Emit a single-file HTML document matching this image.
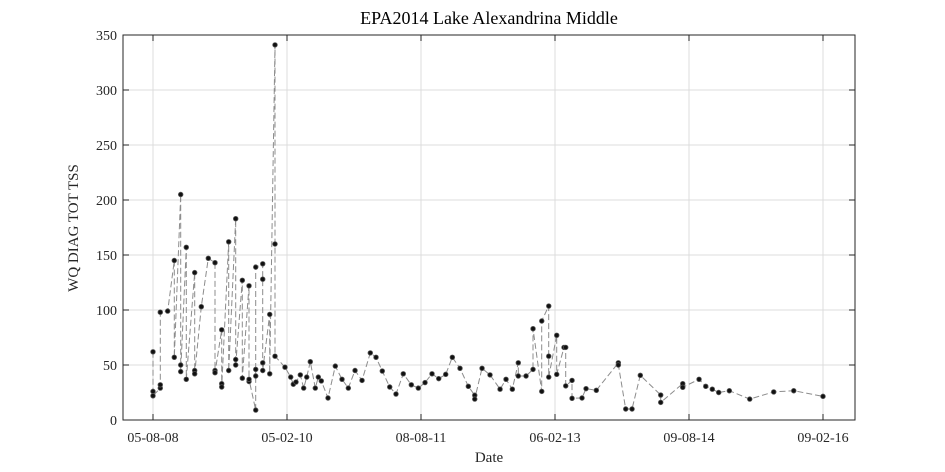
<!DOCTYPE html>
<html><head><meta charset="utf-8"><style>
html,body{margin:0;padding:0;background:#fff;}
svg{display:block;font-family:"Liberation Serif",serif;}
</style></head><body>
<svg id="chart" width="945" height="472"></svg>
<script>
const sampleMonths = [0,0,0, 0.98,0.98,0.98, 1.97, 2.86,2.86, 3.72,3.72,3.72, 4.47,4.47, 5.6,5.6,5.6, 6.49, 7.43, 8.33,8.33,8.33, 9.23,9.23,9.23, 10.17,10.17, 11.11,11.11,11.11, 12.0,12.0, 12.9,12.9,12.9, 13.8,13.8,13.8,13.8, 14.74,14.74,14.74,14.74, 15.68,15.68, 16.39,16.39,16.39,
17.73,18.5,18.85,19.21,19.79,20.24,20.65,21.13,21.8,22.21,22.61,23.51,24.49,25.39,26.24,27.14,28.08,29.19,29.96,30.8,31.8,32.64,33.62,34.7,35.64,36.54,37.48,38.38,39.32,40.21,41.24,42.36,43.22,43.22,44.2,45.27,46.62,47.42,48.27,49.07,49.07,50.11,51.05,51.05,52.22,52.22,53.16,53.16,53.16,54.23,54.23,55.21,55.44,55.44,56.29,56.29,57.63,58.17,59.55,62.51,62.51,63.5,64.35,65.46,68.2,68.2,71.16,71.16,73.35,74.25,75.13,75.99,77.42,80.16,83.38,86.07,90.0];
const sampleValues = [62,26,22, 29,32,98, 99, 145,57, 205,50,44, 157,37, 134,45,42, 103, 147, 143,45,43, 82,33,30, 162,45, 183,55,50, 127,38, 122,35,37, 9,46,40,139, 142,128,52,45, 96,42, 341,160,58,
48,39,32.5,34.5,41,29,39,53,29,39,35.5,20,49,37,29,45,36,61,57,44.5,30,23.6,42,32,29,34,42,37.6,41.5,57,47,30.6,22.5,19,47,41,28,37,28,52,40,40,46,83,26,90,103.6,58,39,77,41.5,66,66,31,36,19.7,20,28.5,27,52,50,10,10,40.6,22.7,16,33,29.7,37,30.6,28,25,26.6,19,25.5,26.6,21.5];
const xTickMonths = [0,18,36,54,72,90];
const xTickLabels = ["05-08-08","05-02-10","08-08-11","06-02-13","09-08-14","09-02-16"];
const yTicks = [0,50,100,150,200,250,300,350];

const NS="http://www.w3.org/2000/svg";
const svg=document.getElementById('chart');
const L=123,R=855,T=35,B=420;
const xS=m=>153+(m)*(670/90);
const yS=v=>B-(v/350)*(B-T);
function mk(tag,attrs,parent){const e=document.createElementNS(NS,tag);for(const k in attrs)e.setAttribute(k,attrs[k]);(parent||svg).appendChild(e);return e;}

const grid=mk('g',{});


xTickMonths.forEach((m,i)=>{
  const x=xS(m);
  mk('line',{x1:x,x2:x,y1:T,y2:B,stroke:'#dcdcdc','stroke-width':1},grid);
  mk('line',{x1:x,x2:x,y1:B,y2:B-6,stroke:'#262626'},svg);
  mk('line',{x1:x,x2:x,y1:T,y2:T+6,stroke:'#262626'},svg);
  const t=mk('text',{x:x,y:B+22,'text-anchor':'middle','font-size':14,fill:'#262626'});
  t.textContent=xTickLabels[i];
  
  
});
yTicks.forEach(v=>{
  const y=yS(v);
  mk('line',{x1:L,x2:R,y1:y,y2:y,stroke:'#dcdcdc','stroke-width':1},grid);
  mk('line',{x1:L,x2:L+6,y1:y,y2:y,stroke:'#262626'},svg);
  mk('line',{x1:R,x2:R-6,y1:y,y2:y,stroke:'#262626'},svg);
  const t=mk('text',{x:L-6,y:y+5,'text-anchor':'end','font-size':14,fill:'#262626'});
  t.textContent=v;
  
  
});
const box=mk('rect',{x:L,y:T,width:R-L,height:B-T,fill:'none',stroke:'#262626','stroke-width':1});



const pts=sampleMonths.map((m,i)=>xS(m).toFixed(1)+','+yS(sampleValues[i]).toFixed(1)).join(' ');
const line=mk('polyline',{points:pts,fill:'none',stroke:'#8c8c8c','stroke-width':1,'stroke-dasharray':'6,3'});


sampleMonths.forEach((m,i)=>{
  const c=mk('circle',{cx:xS(m),cy:yS(sampleValues[i]),r:2.3,fill:'#111',stroke:'#555','stroke-width':0.8});
  
  
});

const title=mk('text',{x:489,y:24,'text-anchor':'middle','font-size':18,fill:'#000'});
title.textContent='EPA2014 Lake Alexandrina Middle';


const xt=mk('text',{x:489,y:462,'text-anchor':'middle','font-size':15,fill:'#262626'});
xt.textContent='Date';


const yt=mk('text',{x:0,y:0,'text-anchor':'middle','font-size':15,fill:'#262626',transform:'translate(78,228) rotate(-90)'});
yt.textContent='WQ DIAG TOT TSS';


</script>
</body></html>
